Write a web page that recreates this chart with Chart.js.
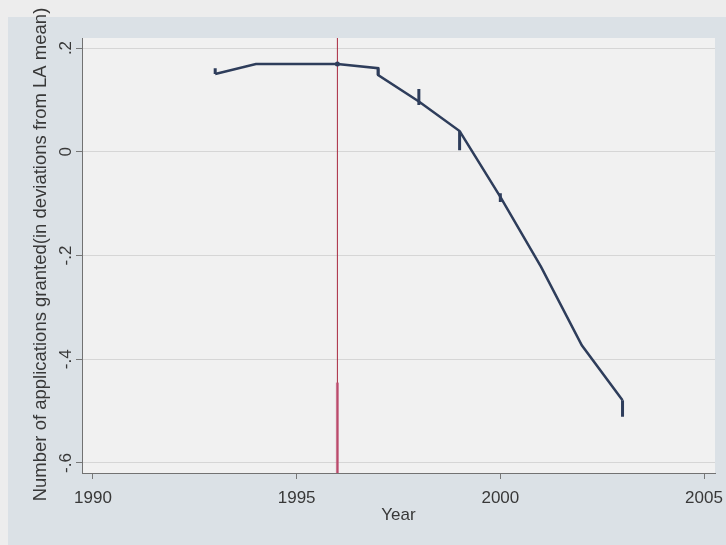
<!DOCTYPE html>
<html>
<head>
<meta charset="utf-8">
<script src="https://cdn.jsdelivr.net/npm/chart.js@4.4.0/dist/chart.umd.min.js"></script>
<style>
  html, body { margin: 0; padding: 0; background: #ededed; width: 726px; height: 545px; overflow: hidden; }
  #region { position: absolute; left: 8px; top: 17px; right: 0; bottom: 0; background: #dbe1e6; }
  #c { position: absolute; left: 0; top: 0; }
</style>
</head>
<body>
<div id="region"></div>
<canvas id="c" width="726" height="545"></canvas>
<script>
// ---- data ----
const years      = [1993, 1994, 1995, 1996, 1997, 1998, 1999, 2000, 2001, 2002, 2003];
const lineEnter  = [0.150, 0.169, 0.169, 0.169, 0.161, 0.097, 0.040, -0.087, -0.222, -0.373, -0.479];
const lineLeave  = [0.150, 0.169, 0.169, 0.169, 0.148, 0.097, 0.040, -0.087, -0.222, -0.373, -0.479];
const spikeLow   = [0.150, null, null, null, 0.148, 0.090, 0.003, -0.097, null, null, -0.511];
const spikeHigh  = [0.161, null, null, null, 0.161, 0.121, 0.040, -0.080, null, null, -0.479];
const markerYear = 1996;
const refYear    = 1996;
const refThickFrom = -0.445;
const xTicks     = [1990, 1995, 2000, 2005];
const yTicks     = [0.2, 0, -0.2, -0.4, -0.6];
const yTickLabels = ['.2', '0', '-.2', '-.4', '-.6'];
const xRange     = [1989.73, 2005.27];
const yRange     = [-0.6193, 0.2193];
const xTitle     = 'Year';
const yTitle     = 'Number of applications granted(in deviations from LA mean)';

// build datasets from the arrays
const linePts = [];
years.forEach((yr, i) => {
  linePts.push({x: yr, y: lineEnter[i]});
  if (lineLeave[i] !== lineEnter[i]) linePts.push({x: yr, y: lineLeave[i]});
});
const spikePts = [];
years.forEach((yr, i) => {
  if (spikeLow[i] !== null) {
    spikePts.push({x: yr, y: spikeLow[i]}, {x: yr, y: spikeHigh[i]}, {x: yr, y: null});
  }
});

const FONT = "'Liberation Sans', Arial, sans-serif";
const TXT = '#383838';

const plotBg = {
  id: 'plotBg',
  beforeDraw(chart) {
    const {ctx, chartArea: a} = chart;
    ctx.save();
    ctx.fillStyle = '#f1f1f1';
    ctx.fillRect(a.left, a.top, a.right - a.left, a.bottom - a.top);
    ctx.restore();
  }
};
const yTitlePlugin = {
  id: 'yTitlePlugin',
  afterDraw(chart) {
    const {ctx, chartArea: a} = chart;
    ctx.save();
    ctx.translate(41, (a.top + a.bottom) / 2 - 1);
    ctx.rotate(-Math.PI / 2);
    ctx.font = "18.5px " + FONT;
    ctx.fillStyle = TXT;
    ctx.textAlign = 'center';
    ctx.textBaseline = 'middle';
    ctx.fillText(yTitle, 0, 0);
    ctx.restore();
  }
};

new Chart(document.getElementById('c'), {
  type: 'line',
  data: {
    datasets: [
      {
        label: 'ref',
        data: [{x: refYear, y: yRange[0]}, {x: refYear, y: yRange[1]}],
        borderColor: '#a8283f',
        borderWidth: 1,
        pointRadius: 0,
        order: 3
      },
      {
        label: 'refThick',
        data: [{x: refYear, y: yRange[0]}, {x: refYear, y: refThickFrom}],
        borderColor: 'rgba(190,80,115,0.75)',
        borderWidth: 3,
        pointRadius: 0,
        order: 2
      },
      {
        label: 'estimate',
        data: linePts,
        borderColor: '#2e3d5b',
        borderWidth: 2.5,
        pointRadius: c => (c.raw && c.raw.x === markerYear) ? 2.5 : 0,
        pointBackgroundColor: '#2e3d5b',
        pointBorderWidth: 0,
        tension: 0,
        order: 1
      },
      {
        label: 'spikes',
        data: spikePts,
        borderColor: '#2e3d5b',
        borderWidth: 3,
        pointRadius: 0,
        spanGaps: false,
        order: 0
      }
    ]
  },
  options: {
    responsive: false,
    animation: false,
    devicePixelRatio: 1,
    layout: { padding: { top: 38, right: 11, left: 0, bottom: 0 } },
    plugins: { legend: { display: false }, tooltip: { enabled: false } },
    scales: {
      x: {
        type: 'linear',
        min: xRange[0], max: xRange[1],
        afterBuildTicks: s => { s.ticks = xTicks.map(v => ({value: v})); },
        afterFit: s => { s.height = 72; s.paddingLeft = 0; s.paddingRight = 0; },
        ticks: {
          callback: v => String(v),
          font: { size: 17, family: FONT },
          color: TXT,
          padding: 9,
          maxRotation: 0, minRotation: 0
        },
        grid: { drawOnChartArea: false, drawTicks: true, tickLength: 6, tickColor: '#777', tickWidth: 1 },
        border: { display: true, color: '#727272', width: 1 },
        title: {
          display: true, text: xTitle,
          font: { size: 17, family: FONT }, color: TXT,
          padding: { top: 0, bottom: 19 }
        }
      },
      y: {
        type: 'linear',
        min: yRange[0], max: yRange[1],
        afterBuildTicks: s => { s.ticks = yTicks.map(v => ({value: v})); },
        afterFit: s => { s.width = 82; s.paddingTop = 0; s.paddingBottom = 0; },
        ticks: {
          callback: (v, i) => yTickLabels[i],
          font: { size: 17, family: FONT },
          color: TXT,
          padding: 0,
          crossAlign: 'center',
          minRotation: 90, maxRotation: 90
        },
        grid: { color: '#d6d6d6', lineWidth: 1, drawTicks: true, tickLength: 6, tickColor: '#777', tickWidth: 1 },
        border: { display: true, color: '#727272', width: 1 }
      }
    }
  },
  plugins: [plotBg, yTitlePlugin]
});
</script>
</body>
</html>
